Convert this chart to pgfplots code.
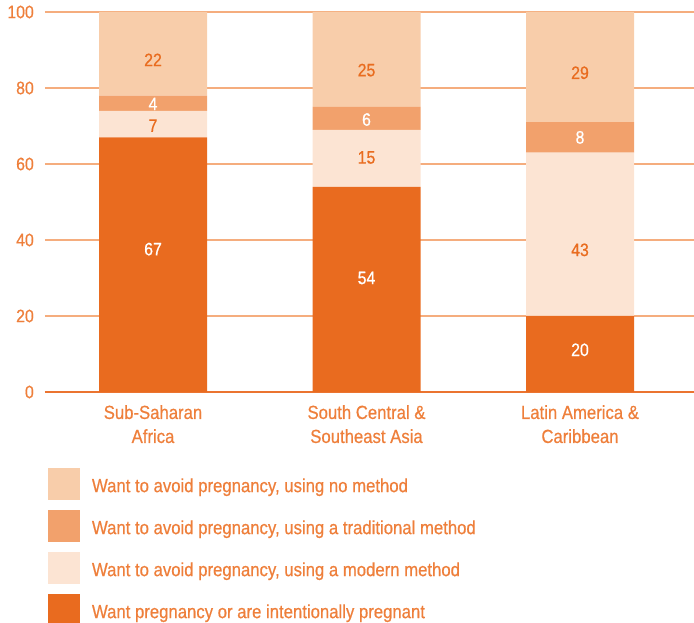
\documentclass[border=0pt]{standalone}
\usepackage{fontspec}
\setmainfont{Liberation Sans}[FakeStretch=0.88, FakeBold=0.6]
\usepackage{pgfplots}
\pgfplotsset{compat=1.18}

\definecolor{wantpreg}{HTML}{E96B1F}
\definecolor{modern}{HTML}{FCE4D3}
\definecolor{tradit}{HTML}{F2A16C}
\definecolor{nomethod}{HTML}{F8CDAA}
\definecolor{txtorange}{HTML}{EE7F3B}
\definecolor{lblorange}{HTML}{E96C1F}
\definecolor{gridorange}{HTML}{F5AD7E}
\definecolor{baseorange}{HTML}{EB7430}

\pgfplotsset{
  frame/.style={
    width=649pt, height=380pt, scale only axis,
    at={(45pt,231pt)}, anchor=south west,
    xmin=-0.506, xmax=2.534, ymin=0, ymax=100,
  },
  sqlegend/.style={legend image code/.code={\fill[##1] (0pt,-14pt) rectangle (32pt,18pt);}},
  seglabel/.style={draw=none, mark=none, nodes near coords, point meta=explicit symbolic,
    every node near coord/.append style={anchor=center, inner sep=0pt, text=#1,
      font=\fontsize{18}{20}\selectfont}},
}

\begin{document}
\begin{tikzpicture}
\useasboundingbox (0,0) rectangle (694pt,623pt);
\begin{axis}[
  frame,
  ybar stacked, bar width=108pt,
  axis lines*=left, axis line style={-},
  y axis line style={draw=none},
  x axis line style={draw=baseorange, line width=1.5pt},
  xtick={0,1,2},
  xticklabels={{Sub-Saharan\\Africa},{South Central \&\\Southeast Asia},{Latin America \&\\Caribbean}},
  xticklabel style={align=center, inner sep=0pt, yshift=-13pt,
    font=\fontsize{19}{24}\selectfont, text=txtorange},
  ytick={0,20,...,100},
  yticklabel style={inner sep=0pt, xshift=-11pt,
    font=\fontsize{18}{20}\selectfont, text=txtorange},
  /pgf/number format/assume math mode=true,
  tick style={draw=none},
  ymajorgrids, major grid style={draw=gridorange, line width=1.6pt},
  reverse legend,
  legend cell align=left,
  legend style={at={(axis description cs:0.0046,-0.2)}, anchor=north west,
    draw=none, fill=none, inner sep=0pt, outer sep=0pt, row sep=10pt,
    font=\fontsize{19}{23}\selectfont, text=txtorange,
    nodes={inner sep=0pt, text=txtorange},
    /tikz/every odd column/.append style={column sep=12pt}},
]
% bottom to top: wanted, modern method, traditional method, no method
\addplot[fill=wantpreg, draw=none, sqlegend] coordinates {(0,67) (1,54) (2,20)};
\addlegendentry{Want pregnancy or are intentionally pregnant}
\addplot[fill=modern, draw=none, sqlegend] coordinates {(0,7) (1,15) (2,43)};
\addlegendentry{Want to avoid pregnancy, using a modern method}
\addplot[fill=tradit, draw=none, sqlegend] coordinates {(0,4) (1,6) (2,8)};
\addlegendentry{Want to avoid pregnancy, using a traditional method}
\addplot[fill=nomethod, draw=none, sqlegend] coordinates {(0,22) (1,25) (2,29)};
\addlegendentry{Want to avoid pregnancy, using no method}
\end{axis}

% segment values written inside the bars
\begin{axis}[frame, hide axis, clip=false]
\addplot[seglabel=white] coordinates {
  (0,37.6) [67] (0,75.8) [4]
  (1,30.0) [54] (1,71.7) [6]
  (2,11.1) [20] (2,67.0) [8]};
\addplot[seglabel=lblorange] coordinates {
  (0,70.1) [7]  (0,87.4) [22]
  (1,61.7) [15] (1,84.7) [25]
  (2,37.4) [43] (2,84.0) [29]};
\end{axis}
\end{tikzpicture}
\end{document}
